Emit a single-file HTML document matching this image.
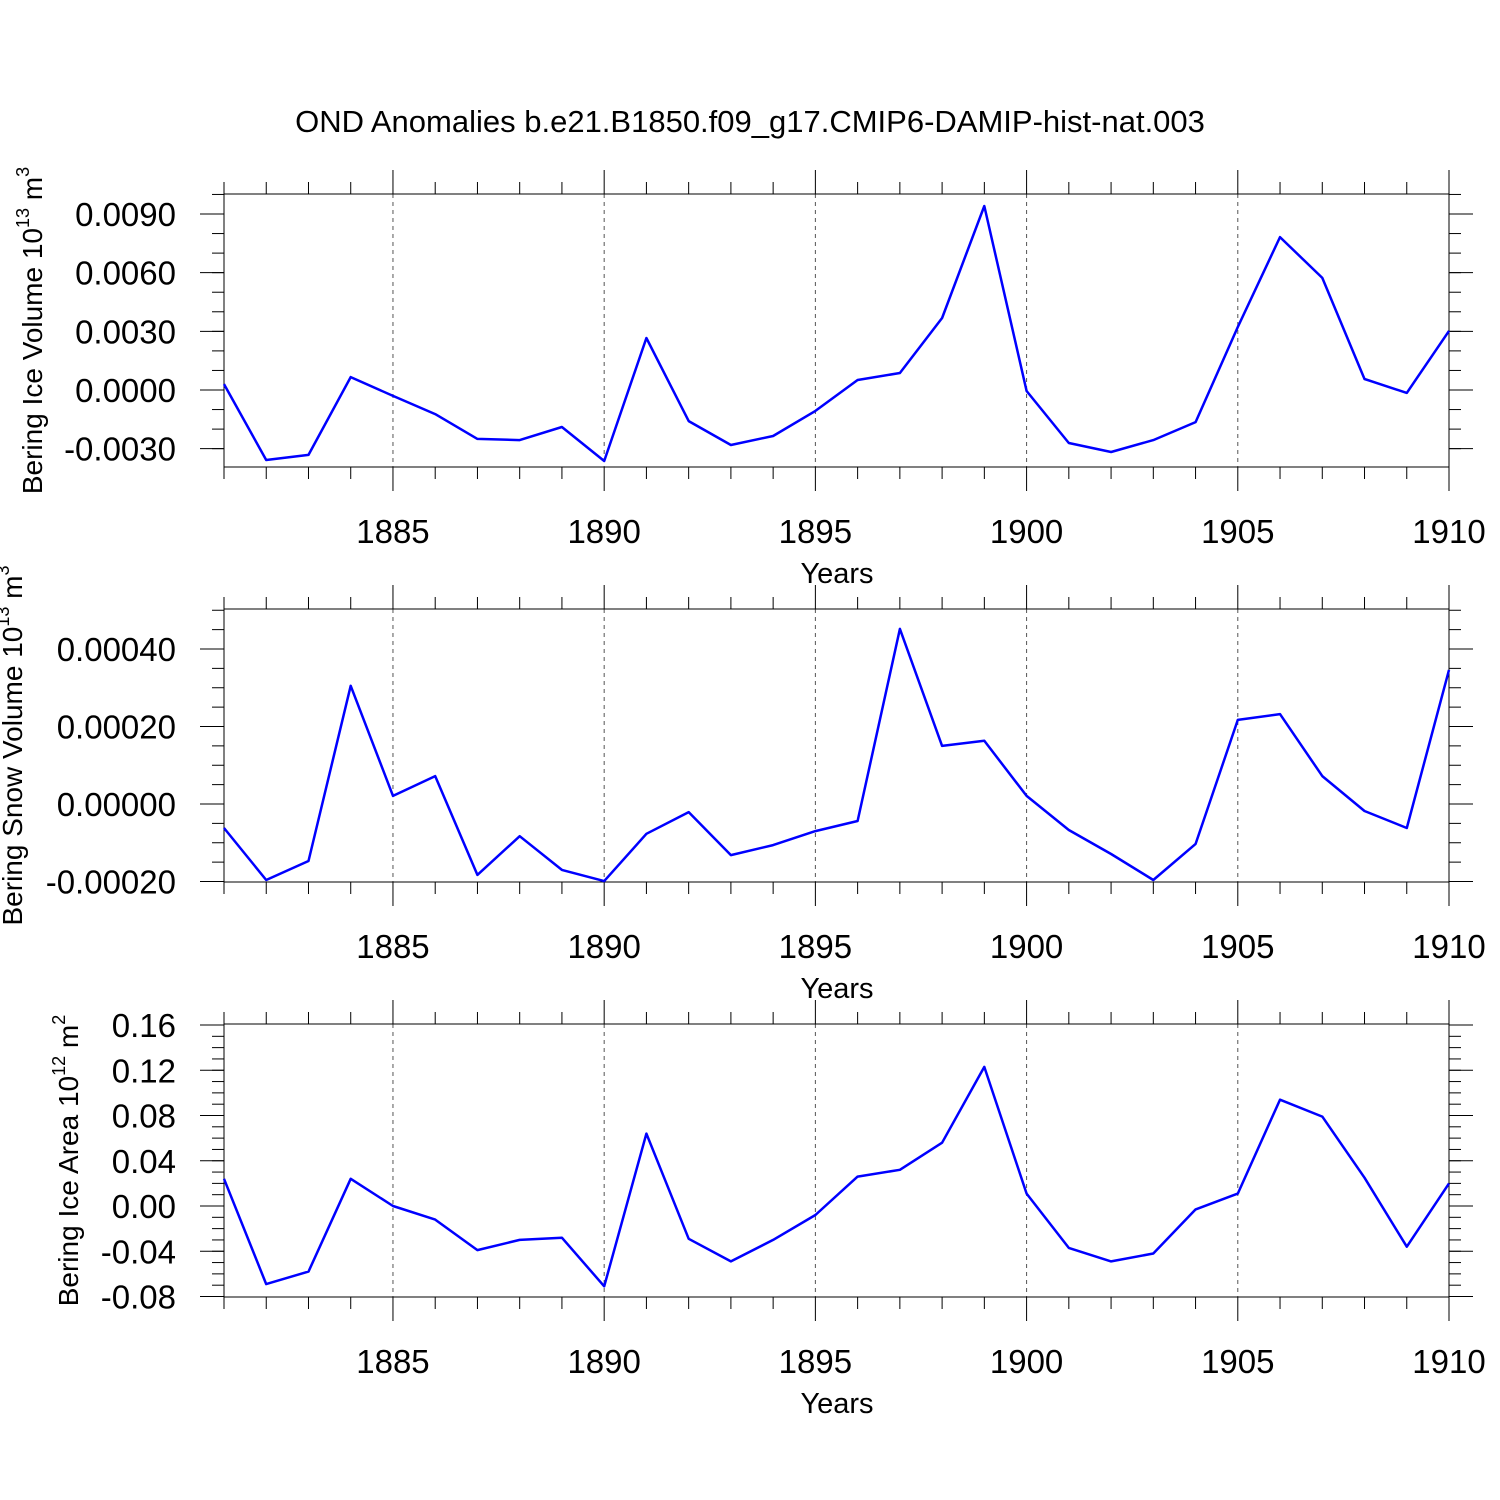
<!DOCTYPE html>
<html><head><meta charset="utf-8"><style>
body{margin:0;background:#fff;}
svg{display:block;font-family:"Liberation Sans",sans-serif;}
</style></head><body>
<svg id="chart" width="1500" height="1500" viewBox="0 0 1500 1500">
<text x="750" y="132" text-anchor="middle" font-size="31">OND Anomalies b.e21.B1850.f09_g17.CMIP6-DAMIP-hist-nat.003</text>
</svg>
<script>
const years = [];
for (let y = 1881; y <= 1910; y++) years.push(y);
const iceVolume = [0.0003,-0.00358,-0.00332,0.00066,-0.0003,-0.00123,-0.0025,-0.00256,-0.00189,-0.00363,0.00266,-0.00159,-0.00281,-0.00235,-0.00107,0.00051,0.00087,0.00368,0.00941,-0.00005,-0.00271,-0.00317,-0.00256,-0.00164,0.00322,0.00782,0.00573,0.00056,-0.00015,0.00302];
const snowVolume = [-0.000062,-0.000196,-0.000147,0.000305,0.000021,0.000072,-0.000183,-0.000083,-0.00017,-0.000199,-0.000077,-0.000021,-0.000132,-0.000106,-0.00007,-0.000044,0.000452,0.00015,0.000163,0.000021,-0.000067,-0.000129,-0.000196,-0.000103,0.000217,0.000232,0.000072,-0.000018,-0.000062,0.000346];
const iceArea = [0.024,-0.069,-0.058,0.024,0,-0.012,-0.039,-0.030,-0.028,-0.071,0.064,-0.029,-0.049,-0.030,-0.008,0.026,0.032,0.056,0.123,0.011,-0.037,-0.049,-0.042,-0.003,0.011,0.094,0.079,0.025,-0.036,0.020];
const xTicks = [1885,1890,1895,1900,1905,1910];
const iceVolTicks = ["-0.0030","0.0000","0.0030","0.0060","0.0090"];
const snowTicks = ["-0.00020","0.00000","0.00020","0.00040"];
const areaTicks = ["-0.08","-0.04","0.00","0.04","0.08","0.12","0.16"];

const NS = "http://www.w3.org/2000/svg";
const svg = document.getElementById('chart');
function mk(tag, attrs, parent) {
  const e = document.createElementNS(NS, tag);
  for (const k in attrs) e.setAttribute(k, attrs[k]);
  (parent || svg).appendChild(e);
  return e;
}
const X0 = 224, X1 = 1449;
const xs = yr => X0 + (yr - 1881) * (X1 - X0) / 29;

const panels = [
  {name:'ice-volume', top:194, bot:467, vTop:0.0090, yTop:214, v0:0, y0:390, data:iceVolume, ticks:iceVolTicks, minor:0.001, label:'Bering Ice Volume 10', sup:'13', unit:' m', usup:'3', lx:42},
  {name:'snow-volume', top:609, bot:882, vTop:0.0004, yTop:649, v0:0, y0:804, data:snowVolume, ticks:snowTicks, minor:0.00005, label:'Bering Snow Volume 10', sup:'13', unit:' m', usup:'3', lx:22},
  {name:'ice-area', top:1024, bot:1297, vTop:0.16, yTop:1025, v0:0, y0:1206, data:iceArea, ticks:areaTicks, minor:0.01, label:'Bering Ice Area 10', sup:'12', unit:' m', usup:'2', lx:78}
];

panels.forEach(p => {
  const g = mk('g', {});
  
  
  const ys = v => p.y0 + (v - p.v0) * (p.yTop - p.y0) / (p.vTop - p.v0);
  xTicks.slice(0,5).forEach(t => {
    const l = mk('line', {x1:xs(t), x2:xs(t), y1:p.top, y2:p.bot, stroke:'#555', 'stroke-width':1, 'stroke-dasharray':'4,4'}, g);
    
    
  });
  years.forEach(yr => {
    const major = yr % 5 === 0;
    const len = major ? 24 : 12;
    mk('line', {x1:xs(yr), x2:xs(yr), y1:p.top, y2:p.top - len, stroke:'#000', 'stroke-width':1}, g);
    mk('line', {x1:xs(yr), x2:xs(yr), y1:p.bot, y2:p.bot + len, stroke:'#000', 'stroke-width':1}, g);
  });
  xTicks.forEach(t => {
    const tx = mk('text', {x:xs(t), y:p.bot + 76, 'text-anchor':'middle', 'font-size':33}, g);
    tx.textContent = t;
    
    
  });
  const xt = mk('text', {x:837, y:p.bot + 116, 'text-anchor':'middle', 'font-size':29}, g);
  xt.textContent = 'Years';
  
  
  const vBot = p.v0 + (p.bot - p.y0) * (p.vTop - p.v0) / (p.yTop - p.y0);
  const vMax = p.v0 + (p.top - p.y0) * (p.vTop - p.v0) / (p.yTop - p.y0);
  for (let k = Math.ceil(vBot / p.minor - 1e-6); k * p.minor <= vMax + 1e-12; k++) {
    const y = ys(k * p.minor);
    mk('line', {x1:X0, x2:X0 - 12, y1:y, y2:y, stroke:'#000', 'stroke-width':1}, g);
    mk('line', {x1:X1, x2:X1 + 12, y1:y, y2:y, stroke:'#000', 'stroke-width':1}, g);
  }
  p.ticks.forEach(t => {
    const y = ys(parseFloat(t));
    mk('line', {x1:X0, x2:X0 - 24, y1:y, y2:y, stroke:'#000', 'stroke-width':1}, g);
    mk('line', {x1:X1, x2:X1 + 24, y1:y, y2:y, stroke:'#000', 'stroke-width':1}, g);
    const tx = mk('text', {x:176, y:y + 12, 'text-anchor':'end', 'font-size':33}, g);
    tx.textContent = t;
    
    
  });
  const fr = mk('rect', {x:X0, y:p.top, width:X1 - X0, height:p.bot - p.top, fill:'none', stroke:'#000', 'stroke-width':1}, g);
  
  
  const pts = p.data.map((v, i) => xs(years[i]).toFixed(1) + ',' + ys(v).toFixed(1)).join(' ');
  const pl = mk('polyline', {points:pts, fill:'none', stroke:'#0000ff', 'stroke-width':2.5, 'stroke-linejoin':'round'}, g);
  
  
  const cy = (p.top + p.bot) / 2;
  const yt = mk('text', {x:p.lx, y:cy, 'text-anchor':'middle', 'font-size':28, transform:'rotate(-90 ' + p.lx + ' ' + cy + ')'}, g);
  
  
  const t1 = mk('tspan', {}, yt); t1.textContent = p.label;
  const t2 = mk('tspan', {dy:-13, 'font-size':18}, yt); t2.textContent = p.sup;
  const t3 = mk('tspan', {dy:13}, yt); t3.textContent = p.unit;
  const t4 = mk('tspan', {dy:-13, 'font-size':18}, yt); t4.textContent = p.usup;
});
</script>
</body></html>
